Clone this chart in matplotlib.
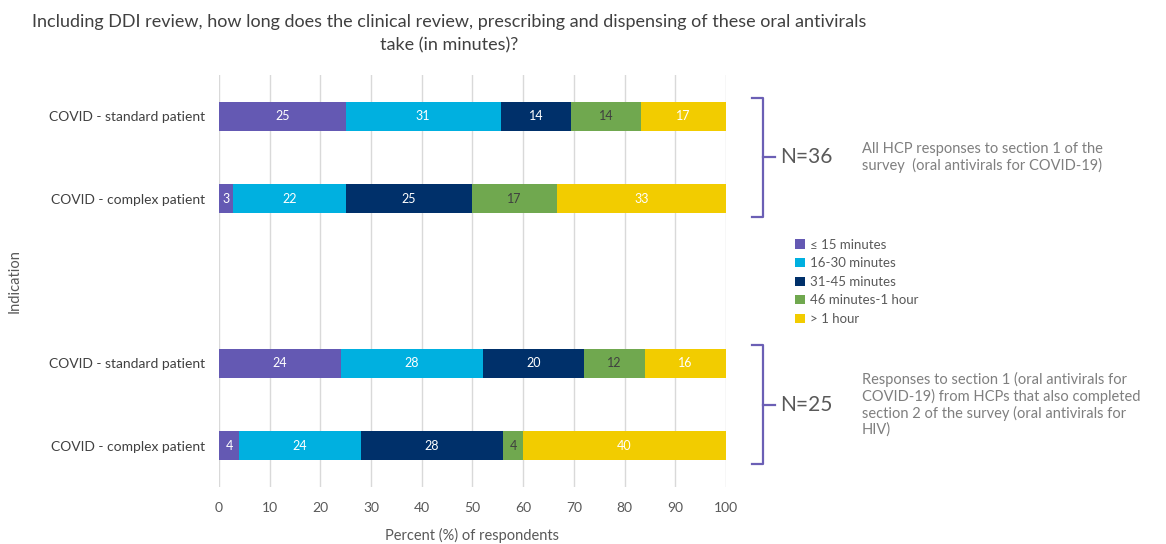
import matplotlib
matplotlib.use("Agg")
import matplotlib.pyplot as plt  # noqa: E402
import matplotlib.transforms as mtransforms  # noqa: E402
import numpy as np  # noqa: E402

plt.rcParams["font.family"] = ["Lato", "DejaVu Sans"]

# response counts per time band (rows top -> bottom), with group sizes
rows = ["COVID - standard patient", "COVID - complex patient", "",
        "COVID - standard patient", "COVID - complex patient"]
bands = ["\u2264 15 minutes", "16-30 minutes", "31-45 minutes", "46 minutes-1 hour", "> 1 hour"]
colors = ["#6459b3", "#00b0e0", "#00306a", "#70a84f", "#f2cc00"]
text_colors = ["white", "white", "white", "#404040", "white"]
counts_n36 = [[9, 11, 5, 5, 6], [1, 8, 9, 6, 12]]
counts_n25 = [[6, 7, 5, 3, 4], [1, 6, 7, 1, 10]]
group_n = [36, 25]
group_notes = [
    "All HCP responses to section 1 of the\nsurvey  (oral antivirals for COVID-19)",
    "Responses to section 1 (oral antivirals for\nCOVID-19) from HCPs that also completed\n"
    "section 2 of the survey (oral antivirals for\nHIV)",
]
xticks = list(range(0, 101, 10))

pct36 = np.array(counts_n36) / group_n[0] * 100
pct25 = np.array(counts_n25) / group_n[1] * 100
pct = np.vstack([pct36, np.full((1, 5), np.nan), pct25])
ypos = np.arange(len(rows))

fig = plt.figure(figsize=(11.66, 5.44), dpi=100)
ax = fig.add_axes([0.1878, 0.105, 0.4348, 0.757])

left = np.zeros(len(rows))
for k, band in enumerate(bands):
    vals = np.nan_to_num(pct[:, k])
    ax.barh(ypos, vals, left=left, height=0.35, color=colors[k], label=band, zorder=3)
    for i in range(len(rows)):
        if vals[i] > 0:
            ax.text(left[i] + vals[i] / 2, ypos[i], f"{vals[i]:.0f}", ha="center", va="center",
                    color=text_colors[k], fontsize=9, zorder=4)
    left += vals

ax.set_xlim(0, 100)
ax.set_ylim(len(rows) - 0.5, -0.5)
ax.set_xticks(xticks)
ax.set_yticks(ypos)
ax.set_yticklabels(rows)
ax.tick_params(axis="both", length=0, colors="#595959", labelsize=10)
ax.tick_params(axis="x", pad=11)
ax.tick_params(axis="y", pad=10)
for lab in ax.get_yticklabels():
    lab.set_color("#404040")
ax.grid(axis="x", color="#d9d9d9", linewidth=1, zorder=0)
for s in ax.spines.values():
    s.set_visible(False)
ax.set_xlabel("Percent (%) of respondents", fontsize=10.5, color="#595959")
ax.xaxis.set_label_coords(0.5, -0.1)
ax.set_ylabel("Indication", fontsize=10.5, color="#595959")
ax.yaxis.set_label_coords(-0.39, 0.5)

fig.suptitle("Including DDI review, how long does the clinical review, prescribing and dispensing of these oral antivirals\ntake (in minutes)?",
             x=0.385, y=0.975, fontsize=13, color="#404040", linespacing=1.6)

# brackets for the two respondent groups
trans = mtransforms.blended_transform_factory(ax.transAxes, ax.transData)
bcol = "#6b5fb5"
for g, (y0, y1) in enumerate([(ypos[0], ypos[1]), (ypos[3], ypos[4])]):
    top, bot = y0 - 0.22, y1 + 0.22
    mid = (y0 + y1) / 2
    x0, x1, x2 = 1.051, 1.073, 1.097
    ax.plot([x0, x1, x1, x0], [top, top, bot, bot], color=bcol, lw=1.6, transform=trans, clip_on=False)
    ax.plot([x1, x2], [mid, mid], color=bcol, lw=1.6, transform=trans, clip_on=False)
    ax.text(x2 + 0.01, mid, f"N={group_n[g]}", transform=trans, fontsize=15, color="#595959",
            ha="left", va="center")
    ax.text(1.268, mid, group_notes[g], transform=trans, fontsize=10.5, color="#7f7f7f",
            ha="left", va="center", linespacing=1.15)

handles, labels = ax.get_legend_handles_labels()
fig.legend(handles, labels, loc="center left", bbox_to_anchor=(0.672, 0.482), frameon=False,
           fontsize=9.5, labelcolor="#595959", handlelength=0.7, handleheight=0.7,
           handletextpad=0.4, labelspacing=0.5)

fig.savefig("out.png", dpi=100)
